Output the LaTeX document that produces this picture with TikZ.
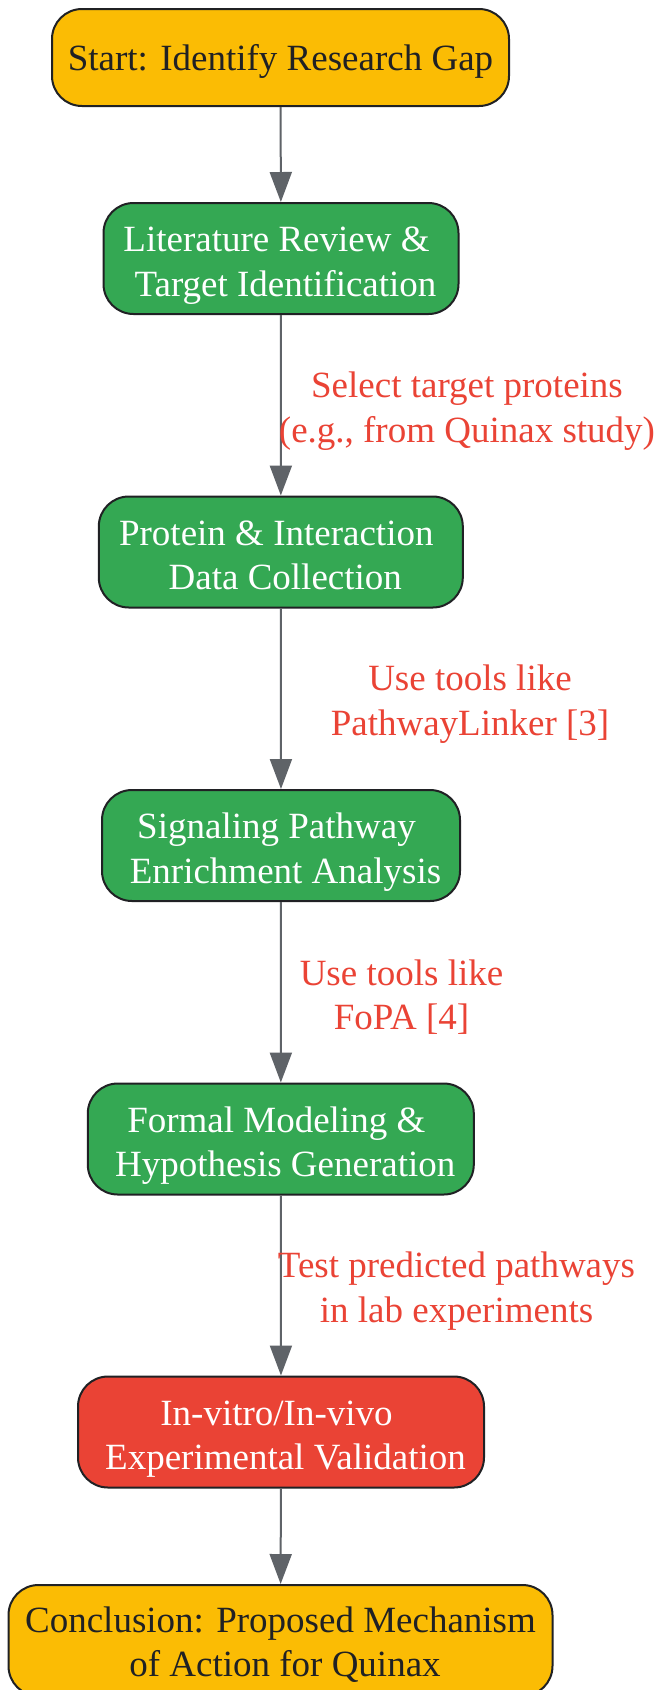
\documentclass[tikz,border=0pt]{standalone}
\usepackage{fontspec}
\setmainfont{Liberation Serif}
\usetikzlibrary{arrows.meta}
\definecolor{cyellow}{HTML}{FBBC04}
\definecolor{cgreen}{HTML}{34A853}
\definecolor{cred}{HTML}{EA4335}
\definecolor{cborder}{HTML}{202124}
\definecolor{cedge}{HTML}{5F6368}
\definecolor{ctext}{HTML}{202124}
\newcommand\lowtext[2]{\raisebox{-#1}[\height][\depth]{\begin{tabular}{@{}c@{}}#2\end{tabular}}}
\newcommand\gapsp{\hspace*{9pt}}
\tikzset{
  box/.style={draw=cborder, line width=2pt, rounded corners=30pt, inner sep=0pt,
    align=center, font=\fontsize{37}{44.5}\selectfont},
  yellowbox/.style={box, fill=cyellow, text=ctext},
  greenbox/.style={box, fill=cgreen, text=white},
  redbox/.style={box, fill=cred, text=white},
  edge/.style={draw=cedge, line width=2pt, -{Triangle[length=30pt,width=22pt]}},
  elabel/.style={text=cred, align=center, inner sep=0pt, font=\fontsize{37}{44.5}\selectfont}
}
\begin{document}
\begin{tikzpicture}[x=1pt,y=-1pt]
\useasboundingbox (0,0) rectangle (662,1690);
\clip (0,0) rectangle (662,1690);
\fill[white] (0,0) rectangle (662,1690);
\node[yellowbox, minimum width=457pt, minimum height=97pt] (start) at (280.5,57.5) {\lowtext{4.5pt}{Start: Identify Research Gap}};
\node[greenbox, minimum width=355pt, minimum height=111pt] (lit) at (281,258.5) {\lowtext{6.5pt}{Literature Review \&\gapsp\\\gapsp Target Identification}};
\node[greenbox, minimum width=364pt, minimum height=111pt] (prot) at (280.8,552) {\lowtext{6.5pt}{Protein \& Interaction\gapsp\\\gapsp Data Collection}};
\node[greenbox, minimum width=358pt, minimum height=111pt] (sig) at (281,845.5) {\lowtext{6.5pt}{Signaling Pathway\gapsp\\\gapsp Enrichment Analysis}};
\node[greenbox, minimum width=386pt, minimum height=111pt] (form) at (280.8,1139) {\lowtext{6.5pt}{Formal Modeling \&\gapsp\\\gapsp Hypothesis Generation}};
\node[redbox, minimum width=406pt, minimum height=111pt] (val) at (281,1432) {\lowtext{6.5pt}{In-vitro/In-vivo\gapsp\\\gapsp Experimental Validation}};
\node[yellowbox, minimum width=544pt, minimum height=111pt] (conc) at (280.5,1640.5) {\lowtext{5pt}{Conclusion: Proposed Mechanism\\\gapsp of Action for Quinax}};
\draw[edge] (start) -- (lit);
\draw[edge] (lit) -- (prot);
\draw[edge] (prot) -- (sig);
\draw[edge] (sig) -- (form);
\draw[edge] (form) -- (val);
\draw[edge] (val) -- (conc);
\node[elabel] (l1) at (467,411) {Select target proteins\\(e.g., from Quinax study)};
\node[elabel] (l2) at (470,704) {Use tools like\\PathwayLinker [3]};
\node[elabel] (l3) at (401.5,997) {Use tools like\\FoPA [4]};
\node[elabel] (l4) at (456.5,1291) {Test predicted pathways\\in lab experiments};
\end{tikzpicture}
\end{document}
